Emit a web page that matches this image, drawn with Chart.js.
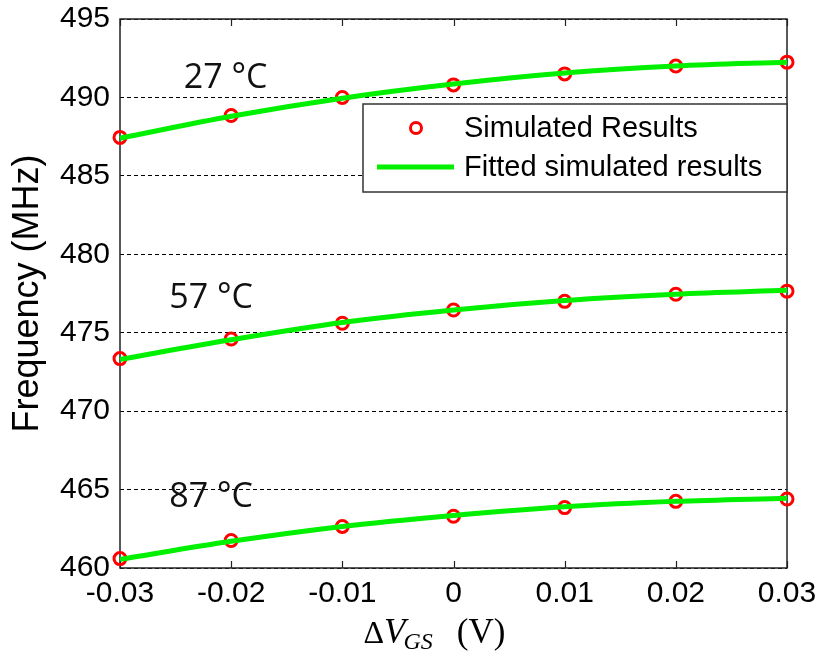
<!DOCTYPE html>
<html>
<head>
<meta charset="utf-8">
<script src="https://cdn.jsdelivr.net/npm/chart.js@4"></script>
<style>
  html, body { margin: 0; padding: 0; background: #fff; }
  #wrap { width: 817px; height: 657px; }
</style>
</head>
<body>
<div id="wrap"><canvas id="myChart"></canvas></div>
<script>
// data
const deltaVgs = [-0.03, -0.02, -0.01, 0, 0.01, 0.02, 0.03];
const yTicks = [460, 465, 470, 475, 480, 485, 490, 495];

const sim27 = [487.45, 488.85, 490.0, 490.8, 491.5, 492.0, 492.25];
const sim57 = [473.35, 474.6, 475.6, 476.45, 477.0, 477.45, 477.65];
const sim87 = [460.6, 461.75, 462.65, 463.3, 463.85, 464.25, 464.4];

const fit27 = [487.4, 488.8, 489.95, 490.85, 491.55, 492.0, 492.25];
const fit57 = [473.3, 474.55, 475.65, 476.45, 477.05, 477.45, 477.7];
const fit87 = [460.55, 461.7, 462.65, 463.35, 463.9, 464.25, 464.45];

const tempLabels = ['27 \u00b0C', '57 \u00b0C', '87 \u00b0C'];
const tempLabelX = [-0.0205, -0.0218, -0.0218];
const tempLabelY = [491.2, 477.2, 464.5];

const legendLabels = ['Simulated Results', 'Fitted simulated results'];

function pts(ys) {
    return deltaVgs.map((x, i) => ({x: x, y: ys[i]}));
}

const RED = '#ff0000';
const GREEN = '#00f000';

function simSet(ys) {
    return {
        data: pts(ys),
        showLine: false,
        pointStyle: 'circle',
        pointRadius: 6,
        pointBorderWidth: 3,
        pointBorderColor: RED,
        pointBackgroundColor: 'rgba(0,0,0,0)',
        borderColor: RED,
        order: 1,
        clip: false
    };
}
function fitSet(ys) {
    return {
        data: pts(ys),
        borderColor: GREEN,
        borderWidth: 5,
        pointRadius: 0,
        cubicInterpolationMode: 'monotone',
        order: 0,
        clip: false
    };
}

// keep the plot box where the reference has it
function noPad(s) {
    s.paddingTop = 0; s.paddingBottom = 0;
    s.paddingLeft = 0; s.paddingRight = 0;
}

const extras = {
    id: 'extras',
    beforeDatasetsDraw(chart) {
        const c = chart.ctx, a = chart.chartArea;
        const xs = chart.scales.x;
        c.save();
        c.strokeStyle = '#222';
        c.lineWidth = 1.5;
        c.strokeRect(a.left, a.top, a.right - a.left, a.bottom - a.top);
        // inward ticks
        c.lineWidth = 1.2;
        deltaVgs.forEach(v => {
            const px = Math.round(xs.getPixelForValue(v)) + 0.5;
            c.beginPath();
            c.moveTo(px, a.top); c.lineTo(px, a.top + 7);
            c.moveTo(px, a.bottom); c.lineTo(px, a.bottom - 7);
            c.stroke();
        });
        c.restore();
    },
    afterDraw(chart) {
        const c = chart.ctx, a = chart.chartArea;
        const xs = chart.scales.x, ys = chart.scales.y;
        c.save();
        // temperature labels
        c.fillStyle = '#111';
        c.font = '34px "Open Sans"';
        c.textAlign = 'center';
        c.textBaseline = 'middle';
        tempLabels.forEach((t, i) => {
            c.fillText(t, xs.getPixelForValue(tempLabelX[i]), ys.getPixelForValue(tempLabelY[i]));
        });

        // legend
        const lw = 424, lh = 88;
        const lx = a.right - lw, ly = a.top + 85;
        c.fillStyle = '#fff';
        c.fillRect(lx, ly, lw, lh);
        c.strokeStyle = '#333';
        c.lineWidth = 1.5;
        c.strokeRect(lx, ly, lw, lh);
        c.beginPath();
        c.arc(lx + 53, ly + 24, 5.5, 0, Math.PI * 2);
        c.strokeStyle = RED;
        c.lineWidth = 3;
        c.stroke();
        c.beginPath();
        c.moveTo(lx + 14, ly + 63); c.lineTo(lx + 91, ly + 63);
        c.strokeStyle = GREEN;
        c.lineWidth = 5;
        c.stroke();
        c.fillStyle = '#000';
        c.font = '29px "Liberation Sans"';
        c.textAlign = 'left';
        c.fillText(legendLabels[0], lx + 101, ly + 25);
        c.fillText(legendLabels[1], lx + 101, ly + 64);

        // x axis title: ΔV_GS (V)
        const cx = (a.left + a.right) / 2;
        const ty = 632;
        c.textAlign = 'left';
        c.textBaseline = 'alphabetic';
        let x0 = cx - 90;
        const base = ty + 11;
        c.font = '32px "Liberation Serif"';
        c.fillText('\u0394', x0, base);
        x0 += c.measureText('\u0394').width;
        c.font = 'italic 35px "Liberation Serif"';
        c.fillText('V', x0, base);
        x0 += c.measureText('V').width - 2;
        c.font = 'italic 24px "Liberation Serif"';
        c.fillText('GS', x0, base + 6);
        x0 += c.measureText('GS').width + 24;
        c.font = '35px "Liberation Serif"';
        c.fillText('(V)', x0, base);
        c.restore();
    }
};

const ctx = document.getElementById('myChart');

new Chart(ctx, {
    type: 'line',
    data: {
        datasets: [
            fitSet(fit27), fitSet(fit57), fitSet(fit87),
            simSet(sim27), simSet(sim57), simSet(sim87)
        ]
    },
    options: {
        responsive: true,
        maintainAspectRatio: false,
        animation: false,
        layout: { padding: { top: 19, right: 30, left: 0, bottom: 0 } },
        plugins: {
            legend: { display: false },
            tooltip: { enabled: false }
        },
        scales: {
            x: {
                type: 'linear',
                min: -0.03,
                max: 0.03,
                afterBuildTicks: s => { s.ticks = deltaVgs.map(v => ({value: v})); },
                afterFit: s => { s.height = 89; noPad(s); },
                grid: { display: false, drawTicks: false },
                border: { display: false },
                ticks: {
                    padding: 8,
                    color: '#000',
                    font: { family: 'Liberation Sans', size: 30 },
                    callback: v => String(v)
                }
            },
            y: {
                min: 460,
                max: 495,
                afterBuildTicks: s => { s.ticks = yTicks.map(v => ({value: v})); },
                afterFit: s => { s.width = 120; noPad(s); },
                grid: { color: '#000', lineWidth: 1, drawTicks: false },
                border: { display: false, dash: [4, 3] },
                ticks: {
                    padding: 10,
                    color: '#000',
                    font: { family: 'Liberation Sans', size: 30 }
                },
                title: {
                    display: true,
                    text: 'Frequency (MHz)',
                    color: '#000',
                    font: { family: 'Liberation Sans', size: 36 },
                    padding: { top: 6, bottom: 0 }
                }
            }
        }
    },
    plugins: [extras]
});
</script>
</body>
</html>
